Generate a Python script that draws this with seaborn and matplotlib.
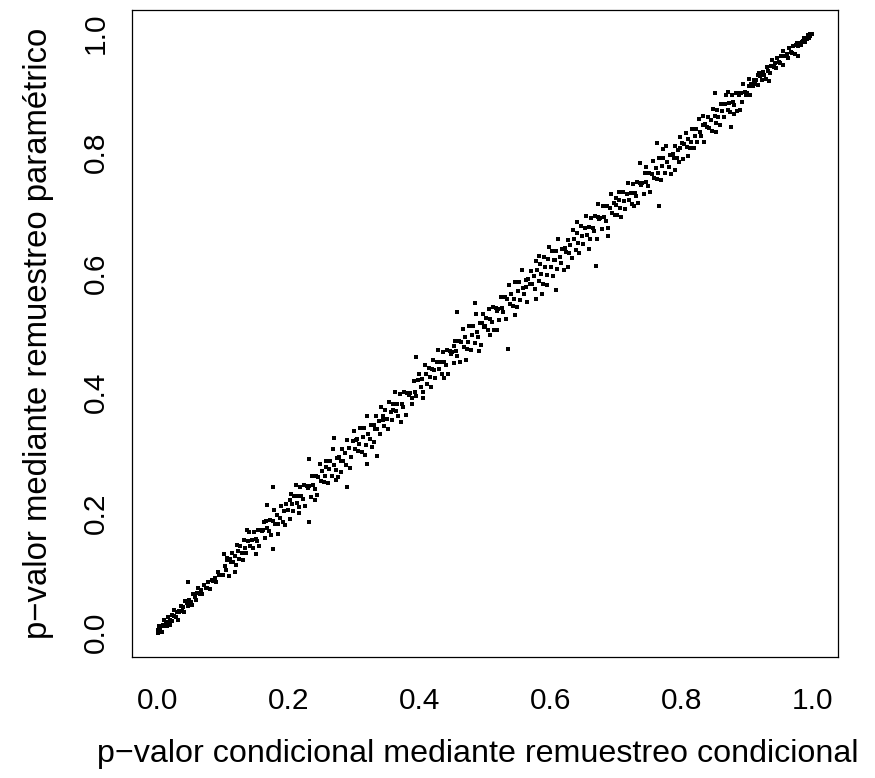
import pandas as pd
import matplotlib
matplotlib.use("Agg")
import matplotlib.pyplot as plt
import seaborn as sns

# p-values, in bands of 0.1 along the x axis
# (x = condicional, y = parametrico)
band_00 = [(0.001, 0.004), (0.002, 0.000), (0.003, 0.011), (0.004, 0.005), (0.005, 0.003),
           (0.006, 0.012), (0.008, 0.002), (0.009, 0.013), (0.010, 0.021), (0.012, 0.011),
           (0.013, 0.018), (0.015, 0.012), (0.016, 0.016), (0.017, 0.027), (0.019, 0.013),
           (0.020, 0.022), (0.022, 0.029), (0.023, 0.019), (0.025, 0.038), (0.026, 0.028),
           (0.028, 0.026), (0.030, 0.035), (0.031, 0.022), (0.033, 0.037), (0.034, 0.035),
           (0.036, 0.044), (0.038, 0.037), (0.040, 0.043), (0.041, 0.035), (0.043, 0.053),
           (0.045, 0.049), (0.047, 0.044), (0.047, 0.085), (0.049, 0.055), (0.051, 0.051),
           (0.053, 0.046), (0.055, 0.064), (0.057, 0.059), (0.059, 0.055), (0.061, 0.067),
           (0.063, 0.075), (0.065, 0.065), (0.067, 0.071), (0.069, 0.065), (0.072, 0.080),
           (0.074, 0.075), (0.076, 0.074), (0.078, 0.085), (0.081, 0.073), (0.083, 0.088),
           (0.085, 0.087), (0.088, 0.091), (0.090, 0.085), (0.093, 0.101), (0.095, 0.096),
           (0.098, 0.096)]
band_01 = [(0.100, 0.096), (0.102, 0.132), (0.104, 0.111), (0.105, 0.104), (0.106, 0.125),
           (0.107, 0.121), (0.109, 0.095), (0.111, 0.123), (0.112, 0.118), (0.114, 0.133),
           (0.116, 0.118), (0.118, 0.128), (0.119, 0.101), (0.120, 0.113), (0.121, 0.146),
           (0.123, 0.136), (0.125, 0.123), (0.127, 0.144), (0.129, 0.133), (0.131, 0.121),
           (0.132, 0.154), (0.134, 0.142), (0.136, 0.133), (0.137, 0.172), (0.138, 0.153),
           (0.140, 0.168), (0.142, 0.145), (0.144, 0.155), (0.146, 0.141), (0.148, 0.168),
           (0.150, 0.156), (0.151, 0.131), (0.152, 0.153), (0.154, 0.172), (0.156, 0.144),
           (0.158, 0.172), (0.160, 0.169), (0.162, 0.172), (0.163, 0.185), (0.164, 0.158),
           (0.166, 0.187), (0.168, 0.174), (0.168, 0.213), (0.170, 0.170), (0.172, 0.188),
           (0.174, 0.163), (0.176, 0.187), (0.176, 0.140), (0.177, 0.243), (0.178, 0.204),
           (0.180, 0.182), (0.182, 0.196), (0.184, 0.182), (0.185, 0.165), (0.187, 0.192),
           (0.189, 0.212), (0.192, 0.184), (0.194, 0.203), (0.195, 0.180), (0.197, 0.215)]
band_02 = [(0.200, 0.205), (0.202, 0.190), (0.203, 0.222), (0.204, 0.231), (0.205, 0.215),
           (0.207, 0.203), (0.209, 0.228), (0.211, 0.246), (0.213, 0.217), (0.214, 0.228),
           (0.216, 0.210), (0.217, 0.199), (0.218, 0.243), (0.220, 0.228), (0.222, 0.223),
           (0.224, 0.246), (0.226, 0.211), (0.228, 0.245), (0.230, 0.241), (0.231, 0.185),
           (0.231, 0.290), (0.232, 0.244), (0.234, 0.227), (0.236, 0.262), (0.238, 0.246),
           (0.240, 0.240), (0.241, 0.221), (0.242, 0.262), (0.244, 0.230), (0.246, 0.260),
           (0.248, 0.281), (0.250, 0.253), (0.252, 0.269), (0.254, 0.251), (0.256, 0.262),
           (0.257, 0.276), (0.258, 0.287), (0.260, 0.250), (0.262, 0.273), (0.264, 0.287),
           (0.266, 0.261), (0.268, 0.306), (0.270, 0.279), (0.270, 0.325), (0.272, 0.271),
           (0.273, 0.255), (0.274, 0.292), (0.276, 0.259), (0.278, 0.293), (0.280, 0.287),
           (0.281, 0.268), (0.282, 0.306), (0.284, 0.286), (0.286, 0.299), (0.288, 0.279),
           (0.289, 0.243), (0.290, 0.321), (0.292, 0.308), (0.294, 0.275), (0.295, 0.293),
           (0.298, 0.319)]
band_03 = [(0.300, 0.337), (0.302, 0.306), (0.303, 0.322), (0.304, 0.323), (0.306, 0.303),
           (0.308, 0.315), (0.310, 0.342), (0.312, 0.301), (0.314, 0.327), (0.316, 0.342),
           (0.317, 0.296), (0.318, 0.313), (0.320, 0.362), (0.320, 0.282), (0.322, 0.332),
           (0.324, 0.323), (0.326, 0.346), (0.328, 0.310), (0.330, 0.347), (0.331, 0.318),
           (0.332, 0.340), (0.334, 0.361), (0.336, 0.339), (0.336, 0.295), (0.338, 0.353),
           (0.340, 0.331), (0.342, 0.377), (0.344, 0.362), (0.345, 0.355), (0.346, 0.344),
           (0.348, 0.372), (0.350, 0.356), (0.352, 0.339), (0.354, 0.384), (0.356, 0.368),
           (0.358, 0.354), (0.359, 0.372), (0.360, 0.381), (0.362, 0.401), (0.364, 0.369),
           (0.366, 0.382), (0.368, 0.362), (0.370, 0.398), (0.372, 0.351), (0.373, 0.382),
           (0.375, 0.377), (0.377, 0.402), (0.379, 0.363), (0.381, 0.400), (0.384, 0.397),
           (0.386, 0.400), (0.388, 0.381), (0.389, 0.392), (0.391, 0.420), (0.393, 0.402),
           (0.395, 0.395), (0.395, 0.460), (0.398, 0.421)]
band_04 = [(0.400, 0.431), (0.402, 0.409), (0.404, 0.423), (0.405, 0.392), (0.406, 0.401),
           (0.408, 0.447), (0.410, 0.432), (0.412, 0.414), (0.414, 0.442), (0.416, 0.426),
           (0.418, 0.409), (0.419, 0.440), (0.420, 0.454), (0.422, 0.438), (0.424, 0.424),
           (0.426, 0.451), (0.428, 0.471), (0.430, 0.439), (0.432, 0.452), (0.434, 0.432),
           (0.436, 0.468), (0.437, 0.425), (0.438, 0.451), (0.440, 0.446), (0.442, 0.471),
           (0.444, 0.432), (0.446, 0.469), (0.448, 0.465), (0.450, 0.468), (0.452, 0.449),
           (0.453, 0.478), (0.454, 0.487), (0.456, 0.469), (0.458, 0.462), (0.458, 0.535),
           (0.460, 0.487), (0.462, 0.451), (0.464, 0.484), (0.466, 0.507), (0.468, 0.476),
           (0.470, 0.493), (0.471, 0.455), (0.472, 0.473), (0.474, 0.485), (0.476, 0.512),
           (0.478, 0.471), (0.480, 0.497), (0.482, 0.512), (0.484, 0.483), (0.485, 0.549),
           (0.486, 0.532), (0.488, 0.502), (0.490, 0.493), (0.491, 0.470), (0.492, 0.516),
           (0.494, 0.480), (0.496, 0.517), (0.497, 0.532), (0.498, 0.510)]
band_05 = [(0.500, 0.511), (0.502, 0.524), (0.504, 0.504), (0.506, 0.540), (0.507, 0.496),
           (0.508, 0.523), (0.510, 0.518), (0.512, 0.543), (0.514, 0.504), (0.516, 0.541),
           (0.518, 0.537), (0.519, 0.505), (0.520, 0.540), (0.522, 0.521), (0.524, 0.559),
           (0.526, 0.541), (0.528, 0.534), (0.530, 0.559), (0.532, 0.523), (0.534, 0.556),
           (0.535, 0.473), (0.536, 0.579), (0.538, 0.548), (0.540, 0.565), (0.542, 0.545),
           (0.544, 0.557), (0.545, 0.530), (0.546, 0.584), (0.548, 0.543), (0.550, 0.569),
           (0.552, 0.584), (0.554, 0.555), (0.556, 0.604), (0.558, 0.574), (0.560, 0.565),
           (0.562, 0.588), (0.563, 0.577), (0.564, 0.552), (0.566, 0.589), (0.568, 0.582),
           (0.570, 0.603), (0.572, 0.581), (0.574, 0.595), (0.576, 0.573), (0.577, 0.557),
           (0.578, 0.619), (0.580, 0.604), (0.582, 0.586), (0.582, 0.628), (0.584, 0.614),
           (0.586, 0.598), (0.587, 0.565), (0.588, 0.581), (0.590, 0.626), (0.592, 0.610),
           (0.594, 0.596), (0.595, 0.580), (0.596, 0.623), (0.598, 0.643)]
band_06 = [(0.600, 0.609), (0.602, 0.636), (0.604, 0.595), (0.605, 0.622), (0.606, 0.621),
           (0.608, 0.636), (0.608, 0.572), (0.610, 0.607), (0.612, 0.656), (0.614, 0.626),
           (0.616, 0.617), (0.618, 0.640), (0.620, 0.604), (0.622, 0.641), (0.624, 0.634),
           (0.626, 0.655), (0.627, 0.610), (0.628, 0.633), (0.630, 0.647), (0.632, 0.625),
           (0.634, 0.671), (0.636, 0.656), (0.638, 0.638), (0.640, 0.666), (0.641, 0.685),
           (0.642, 0.650), (0.644, 0.633), (0.646, 0.678), (0.648, 0.662), (0.650, 0.648),
           (0.652, 0.675), (0.654, 0.695), (0.656, 0.663), (0.658, 0.676), (0.659, 0.640),
           (0.660, 0.656), (0.662, 0.692), (0.664, 0.675), (0.666, 0.670), (0.668, 0.695),
           (0.669, 0.612), (0.670, 0.656), (0.672, 0.693), (0.673, 0.714), (0.674, 0.689),
           (0.676, 0.692), (0.678, 0.673), (0.680, 0.711), (0.682, 0.693), (0.684, 0.686),
           (0.686, 0.711), (0.687, 0.662), (0.688, 0.675), (0.690, 0.708), (0.692, 0.731),
           (0.694, 0.700), (0.696, 0.717), (0.698, 0.697), (0.699, 0.725)]
band_07 = [(0.700, 0.713), (0.702, 0.697), (0.704, 0.722), (0.705, 0.735), (0.706, 0.708),
           (0.708, 0.693), (0.710, 0.734), (0.712, 0.719), (0.714, 0.707), (0.716, 0.732),
           (0.718, 0.750), (0.720, 0.721), (0.722, 0.733), (0.724, 0.715), (0.726, 0.748),
           (0.727, 0.712), (0.728, 0.733), (0.730, 0.728), (0.732, 0.751), (0.734, 0.716),
           (0.736, 0.750), (0.737, 0.783), (0.738, 0.746), (0.740, 0.749), (0.742, 0.732),
           (0.744, 0.767), (0.745, 0.777), (0.746, 0.751), (0.748, 0.745), (0.750, 0.767),
           (0.752, 0.735), (0.754, 0.765), (0.756, 0.786), (0.758, 0.758), (0.760, 0.774),
           (0.762, 0.756), (0.763, 0.817), (0.764, 0.767), (0.766, 0.792), (0.766, 0.712),
           (0.768, 0.755), (0.770, 0.778), (0.771, 0.806), (0.772, 0.792), (0.774, 0.766),
           (0.776, 0.811), (0.778, 0.784), (0.780, 0.776), (0.782, 0.797), (0.784, 0.764),
           (0.786, 0.798), (0.788, 0.792), (0.789, 0.772), (0.790, 0.811), (0.792, 0.791),
           (0.794, 0.804), (0.796, 0.784), (0.797, 0.808), (0.798, 0.826)]
band_08 = [(0.800, 0.816), (0.802, 0.789), (0.804, 0.815), (0.806, 0.833), (0.808, 0.809),
           (0.809, 0.795), (0.810, 0.823), (0.812, 0.808), (0.814, 0.818), (0.816, 0.839),
           (0.818, 0.808), (0.820, 0.828), (0.822, 0.840), (0.824, 0.818), (0.826, 0.857),
           (0.828, 0.834), (0.830, 0.828), (0.832, 0.846), (0.833, 0.861), (0.834, 0.818),
           (0.836, 0.848), (0.838, 0.843), (0.840, 0.859), (0.842, 0.842), (0.844, 0.854),
           (0.846, 0.837), (0.848, 0.873), (0.850, 0.862), (0.850, 0.900), (0.852, 0.849),
           (0.853, 0.835), (0.854, 0.871), (0.856, 0.859), (0.858, 0.847), (0.860, 0.882),
           (0.862, 0.869), (0.864, 0.859), (0.866, 0.881), (0.868, 0.897), (0.870, 0.872),
           (0.871, 0.902), (0.872, 0.883), (0.874, 0.868), (0.875, 0.843), (0.876, 0.896),
           (0.878, 0.884), (0.879, 0.865), (0.880, 0.880), (0.882, 0.899), (0.884, 0.870),
           (0.886, 0.899), (0.888, 0.896), (0.889, 0.872), (0.890, 0.899), (0.892, 0.885),
           (0.894, 0.915), (0.896, 0.902), (0.898, 0.897)]
band_09 = [(0.900, 0.900), (0.902, 0.911), (0.903, 0.923), (0.904, 0.897), (0.906, 0.914),
           (0.908, 0.912), (0.910, 0.922), (0.912, 0.914), (0.914, 0.921), (0.916, 0.913),
           (0.917, 0.930), (0.918, 0.933), (0.920, 0.928), (0.922, 0.922), (0.924, 0.934),
           (0.926, 0.929), (0.928, 0.923), (0.930, 0.943), (0.932, 0.937), (0.933, 0.920),
           (0.934, 0.933), (0.936, 0.945), (0.938, 0.955), (0.940, 0.943), (0.942, 0.949),
           (0.944, 0.942), (0.946, 0.958), (0.948, 0.952), (0.950, 0.949), (0.952, 0.961),
           (0.954, 0.946), (0.955, 0.970), (0.956, 0.962), (0.958, 0.962), (0.960, 0.964),
           (0.962, 0.958), (0.964, 0.974), (0.966, 0.968), (0.968, 0.967), (0.970, 0.978),
           (0.972, 0.964), (0.974, 0.979), (0.976, 0.983), (0.977, 0.962), (0.978, 0.978),
           (0.980, 0.983), (0.982, 0.980), (0.984, 0.984), (0.985, 0.987), (0.986, 0.992),
           (0.988, 0.985), (0.990, 0.992), (0.991, 0.990), (0.992, 0.996), (0.994, 0.992),
           (0.995, 0.994), (0.996, 0.998), (0.998, 0.998)]

ticks = [0.0, 0.2, 0.4, 0.6, 0.8, 1.0]
tick_labels = ["0.0", "0.2", "0.4", "0.6", "0.8", "1.0"]
xlab = "p\u2212valor condicional mediante remuestreo condicional"
ylab = "p\u2212valor mediante remuestreo param\u00e9trico"

bands = [band_00, band_01, band_02, band_03, band_04,
         band_05, band_06, band_07, band_08, band_09]
df = pd.DataFrame([p for b in bands for p in b], columns=["cond", "param"])

sns.set_style("white")
plt.rcParams["font.family"] = ["Liberation Sans", "DejaVu Sans"]
plt.rcParams["text.color"] = "black"
plt.rcParams["axes.labelcolor"] = "black"

fig = plt.figure(figsize=(8.75, 7.78), dpi=100)
ax = fig.add_axes([0.1505, 0.1559, 0.8069, 0.8312])

sns.scatterplot(data=df, x="cond", y="param", ax=ax, marker="s",
                s=7, color="black", linewidth=0)

# R style 4% padding on both axes
def r_lim(v):
    lo, hi = v.min(), v.max()
    d = (hi - lo) * 0.04
    return lo - d, hi + d

ax.set_xlim(*r_lim(df["cond"]))
ax.set_ylim(*r_lim(df["param"]))

ax.set_xticks(ticks)
ax.set_xticklabels(tick_labels)
ax.set_yticks(ticks)
ax.set_yticklabels(tick_labels, rotation=90, va="center")
ax.tick_params(axis="both", direction="out", length=11, width=0.8,
               color="black", labelsize=21.5, labelcolor="black")
ax.tick_params(axis="x", pad=11)
ax.tick_params(axis="y", pad=5)
for s in ax.spines.values():
    s.set_visible(True)
    s.set_color("black")
    s.set_linewidth(0.9)

ax.set_xlabel(xlab, fontsize=23.2, labelpad=22, color="black")
ax.xaxis.set_label_coords(0.49, -0.128)
ax.set_ylabel(ylab, fontsize=23.7, labelpad=20, color="black")

fig.savefig("out.png", dpi=100, facecolor="white")
